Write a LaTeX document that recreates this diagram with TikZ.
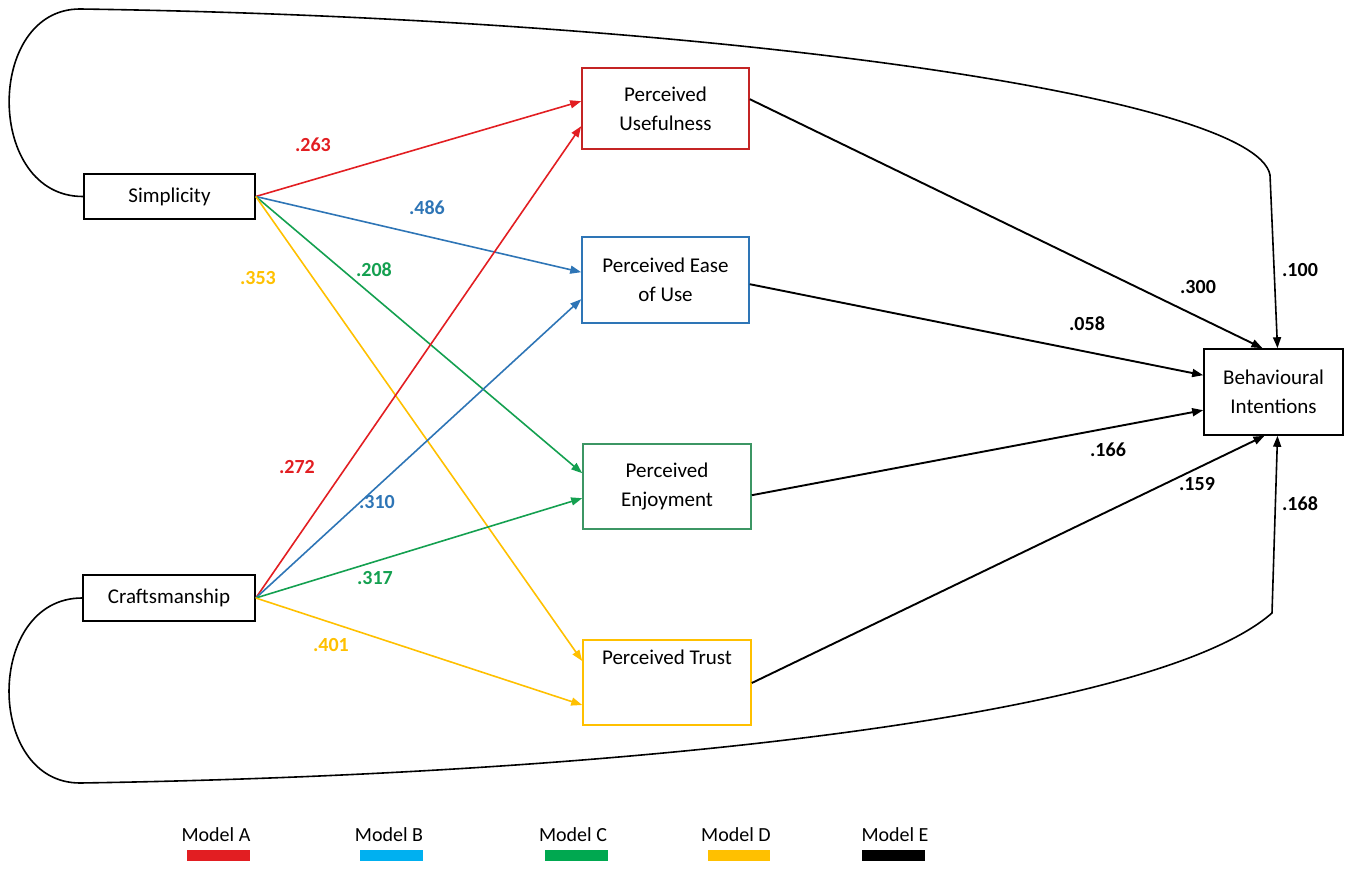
\documentclass[tikz,border=0pt]{standalone}
\usepackage{fontspec}
\setmainfont{Carlito}
\usetikzlibrary{arrows.meta,calc}
\definecolor{cRed}{RGB}{226,30,34}
\definecolor{cRedBox}{RGB}{196,36,36}
\definecolor{cBlue}{RGB}{46,117,182}
\definecolor{cGreen}{RGB}{20,160,80}
\definecolor{cGreenBox}{RGB}{60,150,100}
\definecolor{cYellow}{RGB}{255,192,0}
\definecolor{lBlue}{RGB}{0,176,240}
\definecolor{lGreen}{RGB}{0,168,80}
\tikzset{
  box/.style={draw, line width=1.6pt, fill=white, align=center, font=\fontsize{21}{29}\selectfont, inner sep=0pt},
  conn/.style={line width=1.6pt, -{Triangle[length=11pt,width=8pt]}},
  bconn/.style={line width=1.9pt, -{Triangle[length=11pt,width=8pt]}},
  lab/.style={font=\fontsize{20}{24}\selectfont\bfseries, inner sep=0pt},
  legtext/.style={font=\fontsize{20}{24}\selectfont, inner sep=0pt}
}
\begin{document}
\begin{tikzpicture}[x=1pt,y=-1pt]
\useasboundingbox (0,0) rectangle (1349,890);
% nodes
\node[box, minimum width=171pt, minimum height=45pt] (simp) at (169.5,196.5) {Simplicity};
\node[box, minimum width=172pt, minimum height=46pt] (craft) at (169,598) {Craftsmanship};
\node[box, draw=cRedBox, minimum width=167pt, minimum height=81pt] (pu) at (665.5,108.5) {Perceived\\Usefulness};
\node[box, draw=cBlue, minimum width=167pt, minimum height=86pt] (pe) at (665.5,280) {Perceived Ease\\of Use};
\node[box, draw=cGreenBox, minimum width=168pt, minimum height=85pt] (pj) at (667,486.5) {Perceived\\Enjoyment};
\node[box, draw=cYellow, minimum width=168pt, minimum height=85pt, anchor=north] (pt) at (667,639) {};
\node[font=\fontsize{21}{29}\selectfont, anchor=north, inner sep=0pt] (ptt) at ($(pt.north)+(0,11)$) {Perceived Trust};
\node[box, minimum width=139pt, minimum height=86pt] (bi) at (1273.5,392) {Behavioural\\Intentions};

% Simplicity arrows
\draw[conn, cRed] (simp.east) -- ($(pu.north west)+(0,34)$);
\draw[conn, cBlue] (simp.east) -- ($(pe.north west)+(0,36)$);
\draw[conn, cGreen] (simp.east) -- ($(pj.north west)+(0,30)$);
\draw[conn, cYellow] (simp.east) -- ($(pt.north west)+(0,22)$);
% Craftsmanship arrows
\draw[conn, cRed] (craft.east) -- ($(pu.north west)+(0,59)$);
\draw[conn, cBlue] (craft.east) -- ($(pe.north west)+(0,63)$);
\draw[conn, cGreen] (craft.east) -- ($(pj.north west)+(0,55)$);
\draw[conn, cYellow] (craft.east) -- ($(pt.north west)+(0,66)$);

% black arrows to BI
\draw[bconn] ($(pu.north east)+(0,32)$) -- ($(bi.north)+(-11,0)$);
\draw[bconn] ($(pe.north east)+(0,48)$) -- ($(bi.north west)+(0,27)$);
\draw[bconn] ($(pj.north east)+(0,52)$) -- ($(bi.north west)+(0,62)$);
\draw[bconn] ($(pt.north east)+(0,44)$) -- ($(bi.south)+(-9,0)$);

% long curves
\coordinate (topturn) at (1270,175);
\coordinate (botturn) at (1272,613);
\draw[conn] (simp.west) .. controls (-15,197) and (-15,9) .. (80,9)
   .. controls (700,18) and (1255,95) .. (topturn) -- ($(bi.north)+(4,0)$);
\draw[conn] (craft.west) .. controls (-15,598) and (-15,783) .. (80,783)
   .. controls (600,775) and (1150,720) .. (botturn) -- ($(bi.south)+(4,0)$);

% labels
\node[lab, text=cRed] (l263) at (313,145) {.263};
\node[lab, text=cBlue] (l486) at (427,208) {.486};
\node[lab, text=cYellow] (l353) at (258,278) {.353};
\node[lab, text=cGreen] (l208) at (374,270) {.208};
\node[lab, text=cRed] (l272) at (297,467) {.272};
\node[lab, text=cBlue] (l310) at (377,502) {.310};
\node[lab, text=cGreen] (l317) at (375,578) {.317};
\node[lab, text=cYellow] (l401) at (331,645) {.401};
\node[lab] (l300) at (1198,287) {.300};
\node[lab] (l100) at (1300,270) {.100};
\node[lab] (l058) at (1087,324) {.058};
\node[lab] (l166) at (1108,450) {.166};
\node[lab] (l159) at (1197,484) {.159};
\node[lab] (l168) at (1300,504) {.168};

% legend
\node[legtext] (ma) at (216,835) {Model A};
\node[legtext] (mb) at (389,835) {Model B};
\node[legtext] (mc) at (573,835) {Model C};
\node[legtext] (md) at (736,835) {Model D};
\node[legtext] (me) at (895,835) {Model E};
\fill[cRed] (187,850) rectangle (250,861);
\fill[lBlue] (360,850) rectangle (423,861);
\fill[lGreen] (545,850) rectangle (608,861);
\fill[cYellow] (708,850) rectangle (770,861);
\fill[black] (862,850) rectangle (925,861);
\end{tikzpicture}
\end{document}
